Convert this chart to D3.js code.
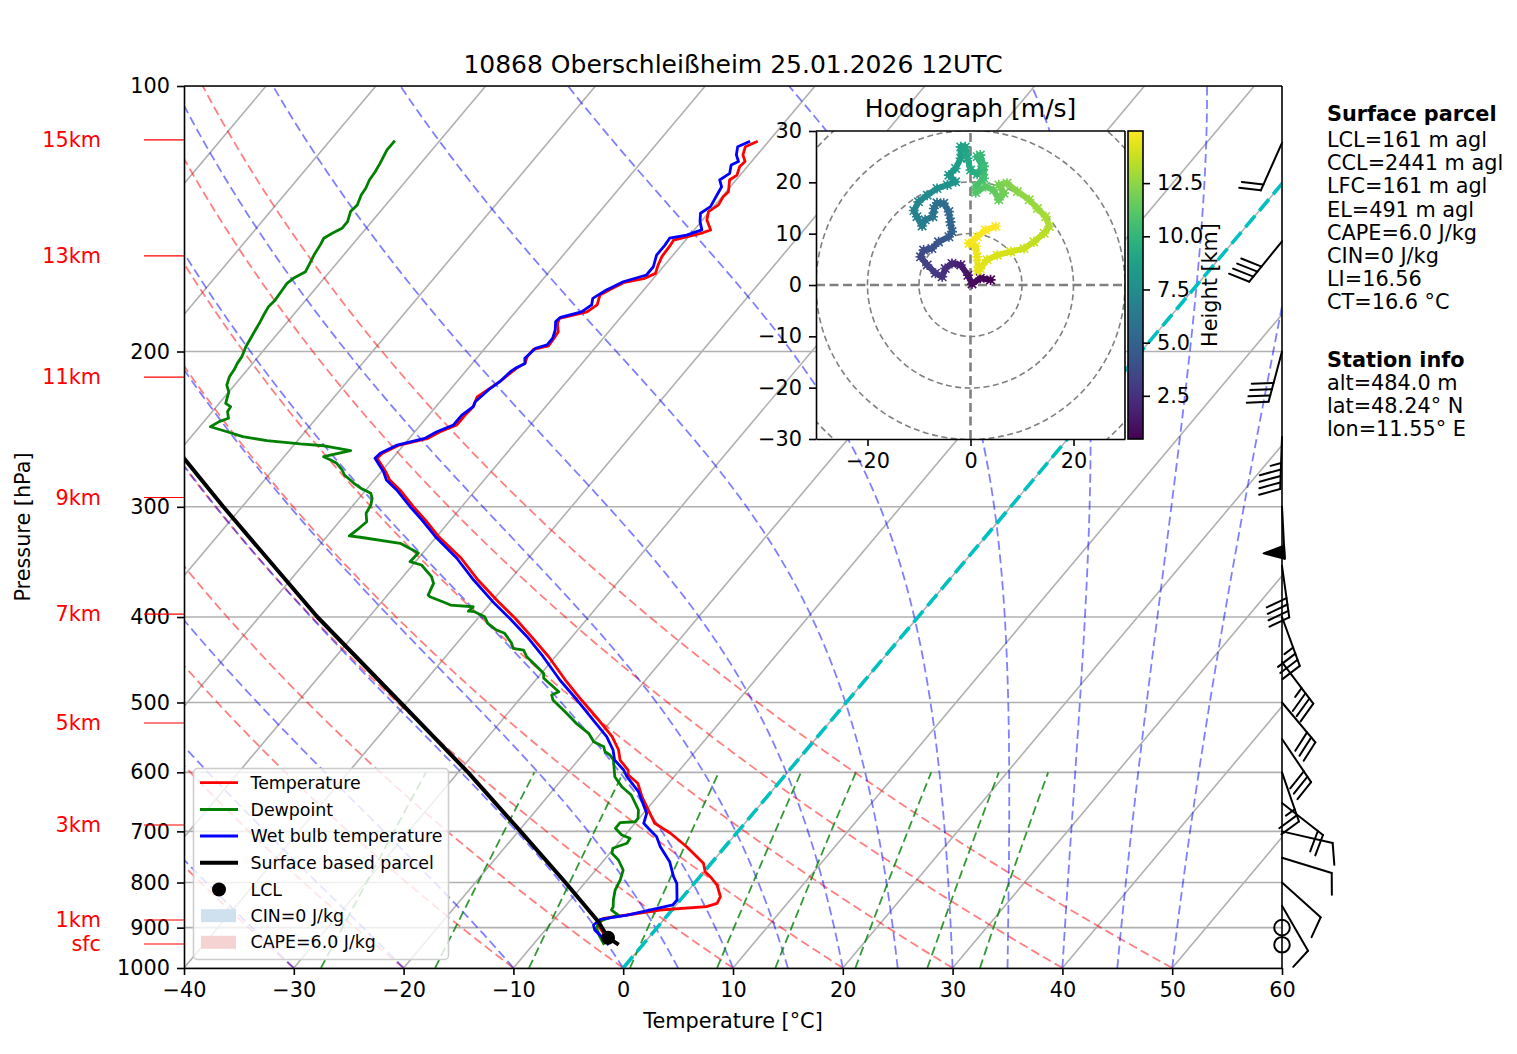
<!DOCTYPE html>
<html>
<head>
<meta charset="utf-8">
<script src="https://cdn.jsdelivr.net/npm/d3@7"></script>
<style>
  body { margin: 0; background: #fff; }
  svg { display: block; }
</style>
</head>
<body>
<svg id="chart" width="1517" height="1054"></svg>
<script>
// ---- sounding data (hPa, degC), surface first ----
var tempP = [941,917.5,893.8,878.3,870.8,859.5,852.1,844.6,830.2,805.2,791.2,777.7,760.9,728.6,703.5,685.4,667.7,639.4,617.4,604.2,596.4,581.0,566.0,546.7,523.4,496.8,471.5,443.7,421.1,401.3,384.3,363.2,343.1,324.3,310.5,299.9,287.1,279.7,273.7,264.3,260.9,255.3,250.9,246.6,242.3,236.1,231.0,225.1,222.2,216.4,209.0,206.3,202.7,198.9,197.1,192.4,189.9,185.8,183.4,180.3,177.1,172.6,170.1,167.1,165.2,163.1,159.6,156.1,151.5,149.5,146.7,145.6,141.9,138.8,136.4,133.5,131.8,127.8,126.2,123.4,121.8,119.7,117.2,115.5];
var tempT = [-2.2,-4.2,-5.6,-5.6,-3.7,-1.1,2.9,3.6,3.4,2.2,1.2,0.1,-0.7,-3.5,-6.0,-8.2,-9.4,-11.4,-12.8,-14.3,-14.7,-16.2,-17.1,-18.7,-21.2,-24.3,-27.3,-30.6,-33.7,-36.6,-39.4,-42.9,-46.1,-49.8,-52.3,-54.4,-56.9,-58.6,-59.6,-61.4,-61.3,-60.4,-58.3,-57.7,-56.7,-56.7,-56.6,-57.0,-56.7,-56.1,-55.6,-55.2,-55.5,-55.5,-54.4,-54.5,-54.6,-55.3,-55.5,-53.5,-53.1,-53.6,-53.1,-52.4,-50.8,-50.2,-50.6,-50.9,-51.0,-51.1,-49.0,-48.5,-49.6,-50.1,-49.7,-49.9,-49.8,-50.6,-50.3,-50.7,-50.6,-51.3,-51.7,-51.0];

var dewP = [941,919.9,900.8,884.5,870.8,859.5,852.1,837.3,815.8,794.7,774.3,754.3,741.2,731.6,722.1,712.8,706.7,694.4,684.3,682.6,676.5,662.0,636.6,622.9,606.9,581.0,573.5,568.6,561.2,553.9,541.9,527.9,512.2,496.8,490.3,486.1,477.7,469.4,463.3,455.4,443.7,436.0,434.0,428.4,417.4,413.8,406.6,399.7,394.5,394.0,389.4,387.7,385.9,379.4,377.7,366.3,360.0,349.2,346.2,338.5,330.0,324.8,323.7,317.3,311.9,305.1,298.6,293.4,289.6,285.8,282.1,276.1,272.5,267.8,265.5,263.2,259.1,255.8,254.6,252.4,249.8,246.6,243.4,240.2,238.1,234.0,231.0,229.0,222.2,218.3,213.6,209.9,206.3,202.7,197.5,193.2,189.1,185.0,181.8,177.9,174.9,171.1,167.4,165.2,162.4,159.6,155.5,151.5,148.8,146.9,145.0,142.5,138.8,136.4,132.9,130.6,127.8,125.1,122.4,118.2,115.3];
var dewT = [-3.5,-4.6,-5.5,-5.7,-4.5,-5.5,-5.6,-6.1,-6.7,-7.0,-7.5,-8.7,-9.8,-10.1,-9.2,-9.3,-10.3,-11.4,-11.4,-10.1,-10.1,-10.7,-12.5,-14.0,-15.4,-16.8,-17.5,-18.2,-18.7,-20.0,-21.1,-23.0,-24.9,-26.9,-27.4,-27.0,-28.2,-29.4,-29.8,-30.9,-32.6,-33.4,-34.5,-35.0,-36.4,-37.4,-38.7,-39.5,-40.8,-41.4,-41.3,-43.5,-44.0,-46.0,-46.3,-46.7,-47.4,-49.2,-50.5,-50.4,-52.8,-56.9,-58.0,-57.7,-57.5,-58.2,-58.4,-58.8,-59.3,-60.6,-61.6,-63.1,-63.7,-64.7,-65.5,-66.4,-64.4,-67.2,-69.5,-72.8,-75.3,-77.1,-79.0,-78.6,-78.0,-78.6,-78.7,-79.4,-80.0,-80.7,-81.1,-81.2,-81.4,-81.5,-81.9,-82.1,-82.3,-82.5,-82.7,-82.9,-82.8,-82.9,-83.0,-82.8,-82.2,-82.4,-82.7,-82.9,-83.1,-82.7,-82.2,-82.2,-82.7,-82.6,-83.0,-83.1,-83.4,-83.5,-83.7,-84.1,-84.1];

var wetP = [941,925.4,905.6,893.8,880.6,870.8,848.3,837.3,801.6,787.9,757.7,728.6,709.8,694.4,685.4,667.7,631.1,606.9,596.4,581.0,566.0,546.7,523.4,496.8,471.5,443.7,421.1,401.3,384.3,363.2,343.1,324.3,310.5,299.9,287.1,279.7,273.7,264.3,260.9,255.3,250.9,246.6,242.3,236.1,231.0,228.0,221.1,216.4,210.8,209.0,206.3,203.6,198.3,196.6,193.2,189.1,185.0,182.9,180.3,177.1,174.1,170.3,166.7,163.8,160.3,155.5,151.5,148.8,147.6,145.6,142.5,139.4,137.0,132.9,130.1,127.8,125.6,122.9,121.8,119.7,117.2,115.5];
var wetT = [-3.1,-4.1,-5.5,-6.0,-5.8,-3.7,-0.3,-0.3,-1.6,-2.4,-3.9,-5.9,-7.0,-8.4,-9.2,-9.7,-12.1,-14.3,-15.1,-16.7,-17.6,-19.2,-21.7,-24.7,-27.8,-31.1,-34.1,-37.1,-39.9,-43.3,-46.5,-50.1,-52.6,-54.7,-57.2,-58.9,-59.8,-61.6,-61.5,-60.6,-58.6,-58.0,-57.0,-57.0,-56.6,-56.8,-56.5,-56.1,-55.9,-55.7,-55.2,-55.6,-55.4,-54.6,-54.6,-55.0,-55.6,-55.5,-54.0,-53.6,-54.0,-53.4,-52.5,-50.9,-50.9,-51.5,-51.5,-51.6,-50.3,-49.3,-50.1,-50.7,-50.3,-50.6,-50.8,-51.5,-51.1,-51.6,-51.2,-51.9,-52.4,-51.7];

var parcelP = [941,923.9,886.2,800,700,600,500,400,300,264.3,250];
var parcelT = [-2.2,-3.7,-5.8,-11.8,-19.8,-29.1,-40.6,-54.7,-71.7,-79.0,-82.1];
var lclP = 923.9, lclT = -3.7;

// wind barbs: pressure (hPa), speed (kt), direction (deg)
var barbP   = [941,900,850,800,750,700,650,600,550,500,450,400,350,300,250,200,150,116];
var barbSpd = [0,0,10,10,10,10,20,25,30,30,35,35,40,50,45,40,40,20];
var barbDir = [0,0,150,132,107,103,128,161,146,140,143,160,172,177,182,195,219,204];

// hodograph (m/s) and height (km)
var hodoU = [3.9,1.9,0.3,-0.5,-1.9,-3.6,-4.9,-5.5,-6.8,-8.4,-9.7,-9.1,-7.5,-6.2,-4.2,-3.6,-3.9,-4.2,-5.2,-6.5,-7.1,-7.3,-8.8,-9.4,-10.4,-11.0,-10.1,-8.4,-6.5,-4.5,-2.9,-4.2,-2.9,-1.9,-1.9,-1.0,-0.6,0.0,1.3,2.3,1.3,1.9,2.6,2.6,1.0,1.0,2.9,4.5,5.5,6.5,5.5,7.1,9.1,11.4,13.0,14.6,15.3,14.3,12.3,10.4,7.8,5.2,3.2,1.9,1.4,1.3,1.0,-0.3,1.3,2.9,4.9];
var hodoV = [1.0,1.3,0.2,1.9,3.9,4.2,3.2,1.6,2.3,3.9,5.5,6.8,7.1,8.4,9.4,10.4,12.3,14.3,15.9,16.0,14.9,13.3,12.7,11.5,13.3,14.5,16.2,17.5,18.8,19.5,20.1,21.4,22.7,24.7,26.9,26.9,24.7,22.4,21.6,23.1,25.0,25.3,23.1,20.8,19.2,18.0,19.2,18.5,16.6,17.9,19.5,19.8,18.2,16.6,14.9,13.3,11.4,10.1,8.4,7.1,6.5,5.8,4.9,3.2,2.8,5.5,7.5,8.1,9.4,10.7,11.4];
var hodoZ = [0.5,0.7,0.9,1.2,1.6,2.0,2.3,2.6,2.9,3.2,3.5,3.8,4.0,4.3,4.6,4.9,5.2,5.4,5.6,5.8,6.0,6.2,6.4,6.6,6.8,7.0,7.2,7.4,7.6,7.8,8.0,8.2,8.4,8.6,8.8,9.0,9.2,9.4,9.6,9.8,10.0,10.2,10.4,10.6,10.8,11.0,11.2,11.4,11.6,11.8,12.0,12.2,12.4,12.6,12.8,13.0,13.2,13.4,13.6,13.8,14.0,14.1,14.2,14.3,14.4,14.5,14.6,14.7,14.8,14.85,14.95];

// axis ticks and labels
var pressureTicks = [100,200,300,400,500,600,700,800,900,1000];
var tempTicks = [-40,-30,-20,-10,0,10,20,30,40,50,60];
var kmLabels = ["15km","13km","11km","9km","7km","5km","3km","1km","sfc"];
var kmP = [115.1,155.8,213.8,292.8,396.9,527.5,688.4,882.2,939.3];
var dryT0 = [-40,-30,-20,-10,0,10,20,30,40,50];
var moistT0 = [-40,-30,-20,-10,0,5,10,15,20,25,30,35,40,45,50];
var mixRatios = [0.0004,0.001,0.002,0.004,0.007,0.01,0.016,0.024,0.032];
var hodoRings = [10,20,30,40];
var hodoTicksY = [-30,-20,-10,0,10,20,30];
var hodoTicksX = [-20,0,20];
var heightTicks = [2.5,5,7.5,10,12.5];
var parcelInfo = ["LCL=161 m agl","CCL=2441 m agl","LFC=161 m agl","EL=491 m agl","CAPE=6.0 J/kg","CIN=0 J/kg","LI=16.56","CT=16.6 °C"];
var stationInfo = ["alt=484.0 m","lat=48.24° N","lon=11.55° E"];
var title = "10868 Oberschleißheim 25.01.2026 12UTC";
var legendNames = ["Temperature","Dewpoint","Wet bulb temperature","Surface based parcel","LCL","CIN=0 J/kg","CAPE=6.0 J/kg"];

// ---- layout ----
var FONT = "DejaVu Sans";
var FS = 20.8;
var box = {left: 184, right: 1282, top: 86, bottom: 968};
var SKEW = 0.84;

var svg = d3.select("#chart");
var x = d3.scaleLinear().domain([-40, 60]).range([box.left, box.right]);
var y = d3.scaleLog().domain([1000, 100]).range([box.bottom, box.top]);
function sx(t, p) { return x(t) + SKEW * (box.bottom - y(p)); }
var skewLine = d3.line().x(function(d) { return sx(d[1], d[0]); }).y(function(d) { return y(d[0]); });
function pairs(P, T) { return P.map(function(p, i) { return [p, T[i]]; }); }

svg.append("defs").append("clipPath").attr("id", "plotclip")
  .append("rect").attr("x", box.left).attr("y", box.top)
  .attr("width", box.right - box.left).attr("height", box.bottom - box.top);

var plot = svg.append("g").attr("clip-path", "url(#plotclip)");

// grid: skewed isotherms + isobars
d3.range(-150, 61, 10).forEach(function(t) {
  plot.append("path").attr("d", skewLine([[1000, t], [100, t]]))
    .attr("fill", "none").attr("stroke", "#b0b0b0").attr("stroke-width", 1.6);
});
pressureTicks.forEach(function(p) {
  plot.append("line").attr("x1", box.left).attr("x2", box.right)
    .attr("y1", y(p)).attr("y2", y(p)).attr("stroke", "#b0b0b0").attr("stroke-width", 1.6);
});

// dry adiabats
var pLevels = d3.range(1000, 99, -5);
dryT0.forEach(function(t0) {
  var pts = pLevels.map(function(p) { return [p, (t0 + 273.15) * Math.pow(p / 1000, 0.28571) - 273.15]; });
  plot.append("path").attr("d", skewLine(pts)).attr("fill", "none")
    .attr("stroke", "red").attr("stroke-opacity", 0.5).attr("stroke-width", 1.8)
    .attr("stroke-dasharray", "9,4.5");
});

// moist adiabats (pseudo-adiabatic lapse rate, RK4 from 1000 hPa)
function moistLapse(t0) {
  var Rd = 287.04749, Cp = 1004.6662, Lv = 2.50084e6, eps = 0.6219569;
  function f(p, T) {
    var es = 6.112 * Math.exp(17.67 * (T - 273.15) / (T - 29.65));
    var rs = eps * es / (p - es);
    return (Rd * T + Lv * rs) / (Cp + Lv * Lv * rs * eps / (Rd * T * T)) / p;
  }
  var T = t0 + 273.15, p = 1000, dp = -5, out = [[p, t0]];
  while (p > 100) {
    var k1 = f(p, T), k2 = f(p + dp / 2, T + dp / 2 * k1),
        k3 = f(p + dp / 2, T + dp / 2 * k2), k4 = f(p + dp, T + dp * k3);
    T += dp / 6 * (k1 + 2 * k2 + 2 * k3 + k4);
    p += dp;
    out.push([p, T - 273.15]);
  }
  return out;
}
moistT0.forEach(function(t0) {
  plot.append("path").attr("d", skewLine(moistLapse(t0))).attr("fill", "none")
    .attr("stroke", "blue").attr("stroke-opacity", 0.5).attr("stroke-width", 1.8)
    .attr("stroke-dasharray", "9,4.5");
});

// mixing ratio lines 1000-600 hPa
var mixLevels = d3.range(1000, 599, -10);
mixRatios.forEach(function(w) {
  var pts = mixLevels.map(function(p) {
    var e = p * w / (0.6219569 + w), l = Math.log(e / 6.112);
    return [p, 243.5 * l / (17.67 - l)];
  });
  plot.append("path").attr("d", skewLine(pts)).attr("fill", "none")
    .attr("stroke", "green").attr("stroke-opacity", 0.8).attr("stroke-width", 1.8)
    .attr("stroke-dasharray", "9,4.5");
});

// 0 degC isotherm
plot.append("path").attr("d", skewLine([[1000, 0], [100, 0]])).attr("fill", "none")
  .attr("stroke", "#00bfbf").attr("stroke-width", 3.6).attr("stroke-dasharray", "15,6.5");

// profiles
function profile(P, T, color, w) {
  plot.append("path").attr("d", skewLine(pairs(P, T))).attr("fill", "none")
    .attr("stroke", color).attr("stroke-width", w).attr("stroke-linejoin", "round");
}
profile(tempP, tempT, "red", 2.8);
profile(dewP, dewT, "green", 2.8);
profile(wetP, wetT, "blue", 2.8);
profile(parcelP, parcelT, "black", 4);
plot.append("circle").attr("cx", sx(lclT, lclP)).attr("cy", y(lclP)).attr("r", 7).attr("fill", "black");

// axes
function styleAxis(g) {
  g.attr("font-family", FONT).attr("font-size", FS).attr("color", "#000");
  g.select(".domain").attr("stroke-width", 1.6);
  g.selectAll(".tick line").attr("stroke-width", 1.6);
}
svg.append("g").attr("transform", "translate(0," + box.bottom + ")")
  .call(d3.axisBottom(x).tickValues(tempTicks).tickSize(7).tickSizeOuter(0).tickPadding(7).tickFormat(d3.format("d")))
  .call(styleAxis);
svg.append("g").attr("transform", "translate(" + box.left + ",0)")
  .call(d3.axisLeft(y).tickValues(pressureTicks).tickSize(7).tickSizeOuter(0).tickPadding(7).tickFormat(d3.format("d")))
  .call(styleAxis);
svg.append("line").attr("x1", box.left).attr("x2", box.right).attr("y1", box.top).attr("y2", box.top)
  .attr("stroke", "#000").attr("stroke-width", 1.6);
svg.append("line").attr("x1", box.right).attr("x2", box.right).attr("y1", box.top).attr("y2", box.bottom)
  .attr("stroke", "#000").attr("stroke-width", 1.6);

svg.append("text").attr("x", (box.left + box.right) / 2).attr("y", 1021).attr("text-anchor", "middle")
  .attr("dominant-baseline", "central").attr("font-family", FONT).attr("font-size", FS).text("Temperature [°C]");
svg.append("text").attr("transform", "translate(23,527) rotate(-90)").attr("text-anchor", "middle")
  .attr("dominant-baseline", "central").attr("font-family", FONT).attr("font-size", FS).text("Pressure [hPa]");
svg.append("text").attr("x", (box.left + box.right) / 2).attr("y", 64).attr("text-anchor", "middle")
  .attr("dominant-baseline", "central").attr("font-family", FONT).attr("font-size", 25).text(title);

// height labels
kmLabels.forEach(function(lab, i) {
  var yy = y(kmP[i]);
  svg.append("line").attr("x1", 144).attr("x2", box.left).attr("y1", yy).attr("y2", yy)
    .attr("stroke", "red").attr("stroke-width", 1.2);
  svg.append("text").attr("x", 101).attr("y", yy).attr("text-anchor", "end").attr("dominant-baseline", "central")
    .attr("font-family", FONT).attr("font-size", FS).attr("fill", "red").text(lab);
});

// legend
var lg = svg.append("g").attr("font-family", FONT).attr("font-size", 17.4);
lg.append("rect").attr("x", 193.5).attr("y", 768.5).attr("width", 255).attr("height", 191).attr("rx", 4)
  .attr("fill", "white").attr("fill-opacity", 0.8).attr("stroke", "#cccccc").attr("stroke-width", 1.5);
var legY = [782.7, 809.5, 836, 862.7, 889.5, 915.7, 942.3];
legendNames.forEach(function(name, i) {
  var yy = legY[i];
  if (i < 4) {
    lg.append("line").attr("x1", 200).attr("x2", 238).attr("y1", yy).attr("y2", yy)
      .attr("stroke", ["red", "green", "blue", "black"][i]).attr("stroke-width", i === 3 ? 4 : 2.8);
  } else if (i === 4) {
    lg.append("circle").attr("cx", 219).attr("cy", yy).attr("r", 7).attr("fill", "black");
  } else {
    lg.append("rect").attr("x", 201).attr("y", yy - 6.5).attr("width", 35).attr("height", 13)
      .attr("fill", i === 5 ? "#cfe0ee" : "#f6d3d3");
  }
  lg.append("text").attr("x", 250.5).attr("y", yy).attr("dominant-baseline", "central").text(name);
});

// wind barbs along right spine
function drawBarb(g, ax, ay, spd, dir) {
  var L = 52, spacing = 0.125 * L, fh = 0.4 * L, fw = 0.25 * L, er = 0.15 * L;
  if (spd < 2.5) {
    g.append("circle").attr("cx", ax).attr("cy", ay).attr("r", er)
      .attr("fill", "none").attr("stroke", "black").attr("stroke-width", 2);
    return;
  }
  var rad = dir * Math.PI / 180;
  var u = -spd * Math.sin(rad), v = -spd * Math.cos(rad);
  var phi = Math.atan2(v, u) + Math.PI / 2, c = Math.cos(phi), s = Math.sin(phi);
  function P(lx, ly) { return [ax + lx * c - ly * s, ay - (lx * s + ly * c)]; }
  var n = Math.round(spd / 5) * 5;
  var flags = Math.floor(n / 50); n -= flags * 50;
  var full = Math.floor(n / 10); n -= full * 10;
  var half = n >= 5;
  var off = L, segs = [[P(0, 0), P(0, L)]], polys = [];
  for (var i = 0; i < flags; i++) {
    if (off !== L) off += spacing / 2;
    polys.push([P(0, off), P(fh, off - fw / 2), P(0, off - fw)]);
    off -= fw + spacing;
  }
  for (var j = 0; j < full; j++) { segs.push([P(0, off), P(fh, off + fw / 2)]); off -= spacing; }
  if (half) {
    if (off === L) off -= 1.5 * spacing;
    segs.push([P(0, off), P(fh / 2, off + fw / 4)]);
  }
  segs.forEach(function(sg) {
    g.append("path").attr("d", d3.line()(sg)).attr("stroke", "black").attr("stroke-width", 2)
      .attr("fill", "none").attr("stroke-linecap", "round");
  });
  polys.forEach(function(pg) {
    g.append("path").attr("d", d3.line()(pg) + "Z").attr("fill", "black").attr("stroke", "black")
      .attr("stroke-width", 2).attr("stroke-linejoin", "round");
  });
}
var barbs = svg.append("g");
barbP.forEach(function(p, i) { drawBarb(barbs, box.right, y(p), barbSpd[i], barbDir[i]); });

// ---- hodograph inset ----
var hx = d3.scaleLinear().domain([-30, 30]).range([816, 1125]);
var hy = d3.scaleLinear().domain([-30, 30]).range([439, 131]);
var hodo = svg.append("g");
hodo.append("rect").attr("x", 816).attr("y", 131).attr("width", 309).attr("height", 308).attr("fill", "white");
svg.select("defs").append("clipPath").attr("id", "hodoclip")
  .append("rect").attr("x", 816).attr("y", 131).attr("width", 309).attr("height", 308);
var hin = hodo.append("g").attr("clip-path", "url(#hodoclip)");
hodoRings.forEach(function(r) {
  hin.append("circle").attr("cx", hx(0)).attr("cy", hy(0)).attr("r", hx(r) - hx(0))
    .attr("fill", "none").attr("stroke", "#808080").attr("stroke-width", 1.6).attr("stroke-dasharray", "6,3.5");
});
hin.append("line").attr("x1", hx(0)).attr("x2", hx(0)).attr("y1", hy(-30)).attr("y2", hy(30))
  .attr("stroke", "#808080").attr("stroke-width", 2.6).attr("stroke-dasharray", "9,4.5");
hin.append("line").attr("x1", hx(-30)).attr("x2", hx(30)).attr("y1", hy(0)).attr("y2", hy(0))
  .attr("stroke", "#808080").attr("stroke-width", 2.6).attr("stroke-dasharray", "9,4.5");

var zMin = 0.47, zMax = 14.95;
var cz = d3.scaleLinear().domain([zMin, zMax]).range([439, 131]);
var zColor = d3.scaleSequential(d3.interpolateViridis).domain([zMin, zMax]);
for (var k = 0; k < hodoU.length - 1; k++) {
  hin.append("line").attr("x1", hx(hodoU[k])).attr("y1", hy(hodoV[k]))
    .attr("x2", hx(hodoU[k + 1])).attr("y2", hy(hodoV[k + 1]))
    .attr("stroke", zColor((hodoZ[k] + hodoZ[k + 1]) / 2)).attr("stroke-width", 6).attr("stroke-linecap", "round");
}
hodoU.forEach(function(u, i) {
  var cx = hx(u), cy = hy(hodoV[i]), m = 4.2;
  hin.append("path").attr("d", "M" + (cx - m) + "," + (cy - m) + "L" + (cx + m) + "," + (cy + m) +
      "M" + (cx - m) + "," + (cy + m) + "L" + (cx + m) + "," + (cy - m) +
      "M" + (cx - m * 1.2) + "," + cy + "L" + (cx + m * 1.2) + "," + cy +
      "M" + cx + "," + (cy - m * 1.2) + "L" + cx + "," + (cy + m * 1.2))
    .attr("stroke", zColor(hodoZ[i])).attr("stroke-width", 1.6);
});

hodo.append("g").attr("transform", "translate(816,0)")
  .call(d3.axisLeft(hy).tickValues(hodoTicksY).tickSize(7).tickSizeOuter(0).tickPadding(7).tickFormat(d3.format("d")))
  .call(styleAxis);
hodo.append("g").attr("transform", "translate(0,439)")
  .call(d3.axisBottom(hx).tickValues(hodoTicksX).tickSize(7).tickSizeOuter(0).tickPadding(7).tickFormat(d3.format("d")))
  .call(styleAxis);
hodo.append("line").attr("x1", 1125).attr("x2", 1125).attr("y1", 131).attr("y2", 439)
  .attr("stroke", "#000").attr("stroke-width", 1.6);
hodo.append("line").attr("x1", 816).attr("x2", 1125).attr("y1", 131).attr("y2", 131)
  .attr("stroke", "#000").attr("stroke-width", 1.6);
hodo.append("text").attr("x", hx(0)).attr("y", 108).attr("text-anchor", "middle").attr("dominant-baseline", "central")
  .attr("font-family", FONT).attr("font-size", 25).text("Hodograph [m/s]");

// colorbar
var grad = svg.select("defs").append("linearGradient").attr("id", "viridis")
  .attr("x1", 0).attr("y1", 1).attr("x2", 0).attr("y2", 0);
d3.range(0, 1.0001, 0.05).forEach(function(t) {
  grad.append("stop").attr("offset", t).attr("stop-color", d3.interpolateViridis(t));
});
hodo.append("rect").attr("x", 1128).attr("y", 131).attr("width", 15).attr("height", 308)
  .attr("fill", "url(#viridis)").attr("stroke", "#000").attr("stroke-width", 1.6);
hodo.append("g").attr("transform", "translate(1143,0)")
  .call(d3.axisRight(cz).tickValues(heightTicks).tickSize(7).tickSizeOuter(0).tickPadding(7).tickFormat(d3.format(".1f")))
  .call(styleAxis).call(function(g) { g.select(".domain").remove(); });
hodo.append("text").attr("transform", "translate(1210,285) rotate(-90)").attr("text-anchor", "middle")
  .attr("dominant-baseline", "central").attr("font-family", FONT).attr("font-size", FS).text("Height [km]");

// ---- info text ----
var info = svg.append("g").attr("font-family", FONT).attr("font-size", FS);
info.append("text").attr("x", 1327).attr("y", 114).attr("dominant-baseline", "central")
  .attr("font-weight", "bold").text("Surface parcel");
parcelInfo.forEach(function(t, i) {
  info.append("text").attr("x", 1327).attr("y", 140 + i * 23.2).attr("dominant-baseline", "central").text(t);
});
info.append("text").attr("x", 1327).attr("y", 359.5).attr("dominant-baseline", "central")
  .attr("font-weight", "bold").text("Station info");
stationInfo.forEach(function(t, i) {
  info.append("text").attr("x", 1327).attr("y", 383 + i * 23).attr("dominant-baseline", "central").text(t);
});
</script>
</body>
</html>
